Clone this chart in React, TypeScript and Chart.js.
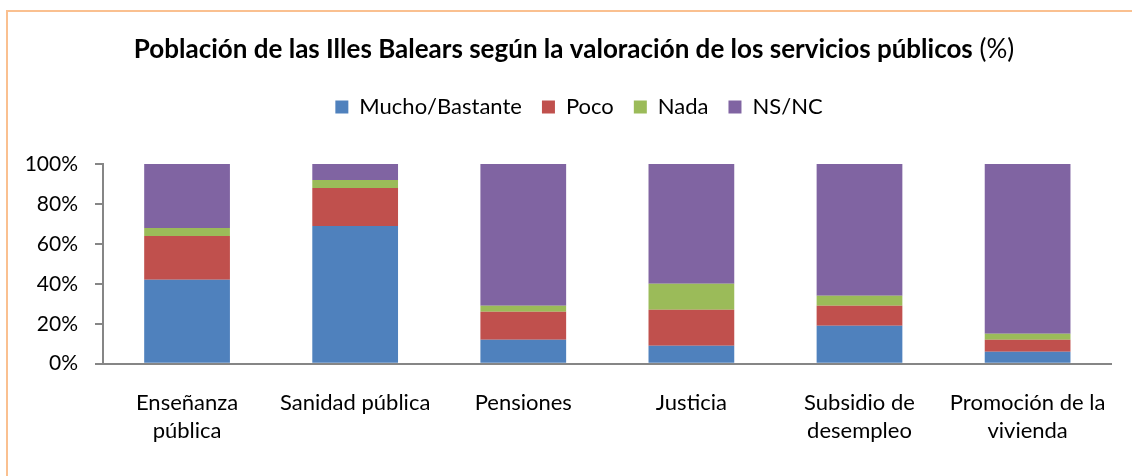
import React, { useEffect, useRef } from "react";
import { Chart, registerables } from "chart.js";

Chart.register(...registerables);

const categories: (string | string[])[] = [
  ["Enseñanza", "pública"],
  "Sanidad pública",
  "Pensiones",
  "Justicia",
  ["Subsidio de", "desempleo"],
  ["Promoción de la", "vivienda"],
];
const muchoBastante = [42, 69, 12, 9, 19, 6];
const poco = [22, 19, 14, 18, 10, 6];
const nada = [4, 4, 3, 13, 5, 3];
const nsnc = [32, 8, 71, 60, 66, 85];
const yTicks = [0, 20, 40, 60, 80, 100];

const titleBold = "Población de las Illes Balears según la valoración de los servicios públicos";
const titleNormal = " (%)";

const FONT = "Lato";
const AXIS = "#868686";

export default function App() {
  const ref = useRef<HTMLCanvasElement | null>(null);
  useEffect(() => {
    document.body.style.margin = "0";
    const canvas = ref.current!;
    const decor = {
      id: "decor",
      beforeInit(chart: any) {
        const lg = chart.legend;
        if (lg) {
          const orig = lg.fit.bind(lg);
          lg.fit = function () {
            orig();
            this.height += 36;
          };
        }
      },
      afterLayout(chart: any) {
        const lg = chart.legend;
        if (lg) {
          lg.left += 23;
          lg.right += 23;
        }
      },
      beforeDraw(chart: any) {
        const ctx = chart.ctx;
        ctx.save();
        ctx.fillStyle = "#ffffff";
        ctx.fillRect(0, 0, chart.width, chart.height);
        ctx.strokeStyle = "#FAC090";
        ctx.lineWidth = 2;
        ctx.strokeRect(7, 11, chart.width + 20, chart.height + 20);
        ctx.restore();
      },
      afterDraw(chart: any) {
        const ctx = chart.ctx;
        ctx.save();
        ctx.textBaseline = "middle";
        ctx.fillStyle = "#000000";
        ctx.font = `bold 26px ${FONT}`;
        const w1 = ctx.measureText(titleBold).width;
        ctx.font = `26px ${FONT}`;
        const w2 = ctx.measureText(titleNormal).width;
        const x0 = 574 - (w1 + w2) / 2;
        ctx.textAlign = "left";
        ctx.font = `bold 26px ${FONT}`;
        ctx.fillText(titleBold, x0, 50);
        ctx.font = `26px ${FONT}`;
        ctx.fillText(titleNormal, x0 + w1, 50);
        ctx.restore();
      },
    };
    const chart = new Chart(canvas, {
      type: "bar",
      data: {
        labels: categories,
        datasets: [
          { label: "Mucho/Bastante", data: muchoBastante, backgroundColor: "#4F81BD" },
          { label: "Poco", data: poco, backgroundColor: "#C0504D" },
          { label: "Nada", data: nada, backgroundColor: "#9BBB59" },
          { label: "NS/NC", data: nsnc, backgroundColor: "#8064A2" },
        ],
      },
      options: {
        animation: false,
        responsive: false,
        maintainAspectRatio: false,
        layout: { padding: { top: 76, left: 0, right: 20, bottom: 6 } },
        datasets: { bar: { categoryPercentage: 1, barPercentage: 0.51 } },
        plugins: {
          title: { display: false },
          tooltip: { enabled: false },
          legend: {
            position: "top",
            labels: {
              boxWidth: 13,
              boxHeight: 13,
              padding: 20,
              color: "#000000",
              font: { family: FONT, size: 22 },
            },
          },
        },
        scales: {
          x: {
            stacked: true,
            grid: { display: false, drawTicks: false },
            border: { display: true, color: AXIS, width: 2 },
            ticks: {
              color: "#000000",
              padding: 25,
              maxRotation: 0,
              autoSkip: false,
              font: { family: FONT, size: 22, lineHeight: 1.28 },
            },
          },
          y: {
            stacked: true,
            min: 0,
            max: 100,
            afterFit(scale: any) {
              scale.width = 103;
            },
            afterBuildTicks(scale: any) {
              scale.ticks = yTicks.map((v) => ({ value: v }));
            },
            grid: { display: true, drawOnChartArea: false, drawTicks: true, tickLength: 8, color: AXIS, lineWidth: 2 },
            border: { display: true, color: AXIS, width: 2 },
            ticks: {
              color: "#000000",
              padding: 17,
              font: { family: FONT, size: 21 },
              callback: (v: any) => `${v}%`,
            },
          },
        },
      },
      plugins: [decor],
    });
    return () => chart.destroy();
  }, []);
  return (
    <div style={{ position: "absolute", left: 0, top: 0, width: 1132, height: 476 }}>
      <canvas ref={ref} width={1132} height={476} style={{ display: "block" }} />
    </div>
  );
}
